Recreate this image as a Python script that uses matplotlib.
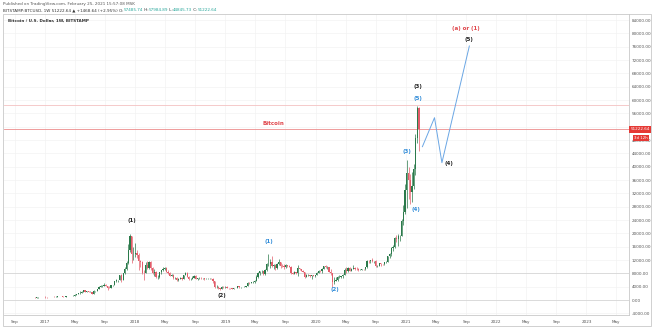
import matplotlib
matplotlib.use("Agg")
import matplotlib.pyplot as plt
import matplotlib.dates as mdates
from matplotlib.patches import Rectangle
import numpy as np
import pandas as pd

# weekly BTCUSD candles (Bitstamp), weeks starting Monday 2016-07-25
first_week = "2016-07-25"
first_open = 655

close_2016 = [624, 588, 570, 581, 572, 608, 608, 609, 602, 612, 617, 638, 656, 698, 705, 703,
              745, 733, 765, 775, 790, 890, 998]
high_2016 = [665, 625, 595, 590, 585, 612, 630, 612, 612, 616, 623, 641, 660, 710, 745, 718,
             750, 760, 770, 780, 795, 898, 1000]
low_2016 = [620, 535, 565, 565, 565, 570, 600, 603, 592, 598, 605, 615, 628, 654, 683, 678,
            700, 725, 730, 750, 770, 788, 885]

close_2017 = [900, 820, 920, 920, 1020, 995, 1050, 1170, 1270, 1230, 960, 960, 1080, 1190, 1180,
              1250, 1350, 1570, 1770, 2050, 2180, 2520, 2950, 2520, 2570, 2500, 2500, 1920, 2750,
              2750, 3230, 4050, 4080, 4350, 4570, 4300, 3700, 3650, 4360, 4600, 5700, 6000, 6150,
              7400, 5950, 8000, 9300, 11200, 15000, 19100, 13900, 13900]
high_2017 = [1150, 910, 930, 930, 1030, 1070, 1060, 1200, 1290, 1280, 1250, 1040, 1100, 1210, 1200,
             1260, 1430, 1710, 1830, 2100, 2760, 2580, 2980, 2980, 2770, 2620, 2650, 2520, 2900,
             2790, 3240, 4200, 4480, 4390, 4980, 4700, 4350, 4100, 4370, 4620, 5850, 6180, 6130,
             7600, 7900, 8200, 9900, 11800, 16800, 19700, 19100, 15900]
low_2017 = [750, 750, 820, 880, 910, 950, 975, 1040, 1160, 1100, 950, 900, 930, 1060, 1150,
            1170, 1250, 1340, 1560, 1750, 1850, 2200, 2450, 2300, 2470, 2300, 2350, 1830, 1900,
            2520, 2650, 3200, 3850, 3950, 4200, 4100, 2970, 3500, 3550, 4150, 4500, 5300, 5400,
            5900, 5550, 6200, 7900, 8900, 10800, 14500, 11000, 12000]

close_2018 = [14000, 13600, 11600, 11500, 8200, 8100, 10400, 9600, 11400, 9500, 8200, 8500, 6900,
              6900, 8300, 8900, 9300, 9700, 8500, 8200, 7350, 7500, 6500, 6500, 6150, 6350, 6700,
              6350, 7400, 8200, 7000, 6300, 6400, 6700, 7200, 6200, 6500, 6700, 6600, 6600, 6300,
              6400, 6400, 6400, 6350, 5600, 3800, 4000, 3600, 3200, 3900, 3800, 4050]
high_2018 = [17200, 15000, 14100, 12000, 11700, 9000, 11300, 11800, 11700, 11700, 9900, 9200, 8700,
             7500, 8400, 9100, 9800, 9900, 10000, 8900, 8500, 7800, 7800, 6900, 6800, 6600, 6800,
             6800, 7600, 8500, 8300, 7200, 6600, 7100, 7400, 7400, 6600, 6900, 6800, 6700, 6700,
             6700, 6600, 6500, 6600, 6500, 5700, 4400, 4300, 3700, 4200, 4200, 4100]
low_2018 = [12800, 12500, 9000, 10000, 7800, 6000, 8000, 9300, 9300, 9000, 7900, 7300, 6600,
            6400, 6600, 7900, 8700, 8900, 8500, 7900, 7200, 7100, 6400, 6200, 5800, 5800, 6200,
            6100, 6300, 7400, 6900, 6000, 5900, 6200, 6700, 6200, 6100, 6300, 6400, 6400, 6100,
            6200, 6300, 6350, 6300, 5200, 3500, 3600, 3300, 3100, 3200, 3600, 3700]

close_2019 = [3600, 3550, 3530, 3410, 3640, 3650, 4100, 3820, 3930, 4000, 4030, 4100, 5100, 5060,
              5300, 5300, 5800, 7000, 8200, 8700, 8700, 7700, 8900, 10800, 10800, 11300, 10300,
              10600, 9500, 10800, 11300, 10200, 10100, 9800, 10400, 10300, 10000, 8000, 7900, 8300,
              8200, 9500, 9200, 8800, 8500, 6900, 7400, 7500, 7100, 7500, 7300, 7400]
high_2019 = [4100, 3700, 3650, 3600, 3700, 3700, 4200, 3950, 3950, 4050, 4080, 4150, 5300, 5400,
             5350, 5600, 5900, 7500, 8300, 8800, 9000, 8800, 9300, 11200, 13800, 12400, 13200,
             10900, 10700, 11100, 12300, 11500, 10900, 10700, 10900, 10500, 10400, 10100, 8500,
             8700, 8400, 10500, 9700, 9400, 8900, 8500, 7800, 7800, 7600, 7600, 7500, 7500]
low_2019 = [3500, 3400, 3450, 3350, 3400, 3550, 3600, 3700, 3700, 3850, 3950, 3950, 4100, 4900,
            5000, 5050, 5200, 5700, 6600, 7600, 8000, 7450, 7600, 8800, 10300, 9700, 9900, 9300,
            9100, 9400, 10600, 9500, 9800, 9350, 9600, 9900, 9800, 7700, 7700, 7900, 7900, 7300,
            8900, 8700, 8300, 6500, 6800, 7200, 6900, 6450, 7100, 6900]

close_2020 = [8190, 8700, 8600, 9400, 10150, 9900, 9950, 8550, 8000, 5400, 5830, 5900, 6780, 6900,
              7100, 7550, 8900, 8750, 9680, 8720, 9450, 9650, 9350, 9300, 9000, 9080, 9230, 9160,
              9930, 11800, 11700, 11900, 11650, 11700, 10280, 10330, 11080, 10750, 10670, 11300,
              11400, 13100, 13750, 15500, 16000, 18700, 18200, 19200, 19200, 23800, 26500, 33000]
high_2020 = [8450, 9000, 8950, 9550, 10200, 10500, 10300, 9950, 9200, 8200, 6900, 6950, 7200, 7450,
             7300, 7750, 9500, 10000, 9900, 9950, 9600, 10400, 10000, 9800, 9700, 9250, 9450, 9250,
             9960, 12100, 12000, 12100, 12470, 11800, 12050, 10600, 11150, 11180, 10950, 11500,
             11700, 13350, 14000, 15900, 16500, 18800, 19400, 19900, 19400, 24300, 28400, 34800]
low_2020 = [7400, 8080, 8300, 8250, 9250, 9600, 9400, 8450, 7600, 3850, 4950, 5700, 5850, 6700,
            6500, 6700, 7500, 8100, 8400, 8650, 8630, 9200, 9100, 9000, 8800, 8950, 8900, 9050,
            9100, 9700, 11000, 11100, 11450, 11150, 9900, 9900, 10200, 10150, 10500, 10500, 11200,
            11300, 12700, 13250, 14800, 15500, 17500, 16200, 17600, 19100, 22400, 25800]

close_2021 = [38200, 36000, 32300, 34300, 39200, 48600, 57485.74, 51222.64]
high_2021 = [41900, 40000, 37800, 38500, 40900, 49700, 58350, 57984.89]
low_2021 = [27700, 30400, 28800, 29300, 33400, 37400, 47000, 44845.73]

closes = close_2016 + close_2017 + close_2018 + close_2019 + close_2020 + close_2021
highs = high_2016 + high_2017 + high_2018 + high_2019 + high_2020 + high_2021
lows = low_2016 + low_2017 + low_2018 + low_2019 + low_2020 + low_2021
opens = [first_open] + closes[:-1]

# drawn lines: projected path, horizontal levels
proj_dates = ["2021-03-08", "2021-04-26", "2021-05-26", "2021-09-14"]
proj_prices = [46000, 54700, 41200, 76200]
ath_level = 58500
last_price = 51222.64
support_levels = [8000, 0]

# wave labels: text, date, price, colour
waves = [
    ("(1)", "2017-12-18", 23800, "#222222"),
    ("(2)", "2018-12-17", 1200, "#222222"),
    ("(1)", "2019-06-24", 17500, "#2f8bd8"),
    ("(2)", "2020-03-20", 3000, "#2f8bd8"),
    ("(3)", "2021-01-06", 44500, "#2f8bd8"),
    ("(4)", "2021-02-10", 27000, "#2f8bd8"),
    ("(5)", "2021-02-17", 60500, "#2f8bd8"),
    ("(3)", "2021-02-17", 64000, "#222222"),
    ("(4)", "2021-06-23", 40800, "#222222"),
    ("(5)", "2021-09-14", 78300, "#222222"),
    ("(a) or (1)", "2021-09-01", 81500, "#e0474c"),
    ("Bitcoin", "2019-07-12", 53000, "#e0474c"),
]

xtick_dates = ["2016-09-01", "2017-01-01", "2017-05-01", "2017-09-01", "2018-01-01", "2018-05-01",
               "2018-09-01", "2019-01-01", "2019-05-01", "2019-09-01", "2020-01-01", "2020-05-01",
               "2020-09-01", "2021-01-01", "2021-05-01", "2021-09-01", "2022-01-01", "2022-05-01",
               "2022-09-01", "2023-01-01", "2023-05-01"]
xtick_labels = ["Sep", "2017", "May", "Sep", "2018", "May", "Sep", "2019", "May", "Sep", "2020",
                "May", "Sep", "2021", "May", "Sep", "2022", "May", "Sep", "2023", "May"]
ytick_values = list(range(-4000, 84001, 4000))

UP = "#2b7a4b"
DOWN = "#e35d6a"
W, H = 654, 328

fig = plt.figure(figsize=(W / 100, H / 100), dpi=100)
fig.patch.set_facecolor("white")


def px(x, y):
    return x / W, 1 - y / H


# outer frame of the chart pane
fig.add_artist(Rectangle(px(3, 326), 648 / W, 312 / H, transform=fig.transFigure,
                         fill=False, edgecolor="#c9c9c9", linewidth=0.6))

ax = fig.add_axes([4 / W, 13 / H, 625 / W, 301 / H])
ax.set_facecolor("white")

weeks = pd.date_range(first_week, periods=len(closes), freq="7D")
x = mdates.date2num(weeks)
o = np.array(opens, dtype=float)
c = np.array(closes, dtype=float)
hi = np.maximum(np.array(highs, dtype=float), np.maximum(o, c))
lo = np.minimum(np.array(lows, dtype=float), np.minimum(o, c))
colors = [UP if cc >= oo else DOWN for oo, cc in zip(o, c)]

ax.vlines(x, lo, hi, colors=colors, linewidth=0.5, zorder=3)
ax.bar(x, c - o, bottom=o, width=5, color=colors, linewidth=0, zorder=4)

# horizontal levels
ax.axhline(ath_level, color="#f4c2c2", linewidth=0.6, zorder=2)
ax.axhline(last_price, color="#ec8c8c", linewidth=0.6, zorder=2)
for lvl in support_levels:
    ax.axhline(lvl, color="#d6d6d6", linewidth=0.6, zorder=2)

# projected wave path
ax.plot(mdates.date2num(pd.to_datetime(proj_dates)), proj_prices, color="#6aa6e4",
        linewidth=0.7, zorder=5)

for txt, d, price, col in waves:
    ax.text(mdates.date2num(pd.Timestamp(d)), price, txt, color=col, fontsize=4,
            fontweight="bold", ha="center", va="center", zorder=6)

ax.set_xlim(mdates.date2num(pd.Timestamp("2016-07-19")), mdates.date2num(pd.Timestamp("2023-06-22")))
ax.set_ylim(-4500, 85800)

ax.set_xticks(mdates.date2num(pd.to_datetime(xtick_dates)))
ax.set_xticklabels(xtick_labels)
ax.set_yticks(ytick_values)
# the 52000 mark sits under the last-price tag
ax.set_yticklabels(["" if v == 52000 else f"{v:.2f}" for v in ytick_values])
ax.yaxis.tick_right()
ax.tick_params(axis="both", length=0, labelsize=3, labelcolor="#555555")
ax.tick_params(axis="x", pad=3.5)
ax.tick_params(axis="y", pad=2)
ax.grid(True, color="#f3f3f3", linewidth=0.5, zorder=0)
ax.set_axisbelow(True)
for side in ["top", "left"]:
    ax.spines[side].set_visible(False)
for side in ["right", "bottom"]:
    ax.spines[side].set_color("#c9c9c9")
    ax.spines[side].set_linewidth(0.6)

# last price tags on the price scale
ytr = ax.get_yaxis_transform()
ax.text(1.002, last_price, "51222.64", transform=ytr, fontsize=3, color="white",
        ha="left", va="center", zorder=10, clip_on=False,
        bbox=dict(boxstyle="square,pad=0.3", facecolor="#e53935", edgecolor="none"))
ax.text(1.008, last_price - 2700, "3d 12h", transform=ytr, fontsize=2.8, color="white",
        ha="left", va="center", zorder=10, clip_on=False,
        bbox=dict(boxstyle="square,pad=0.25", facecolor="#e53935", edgecolor="none"))

# header lines
fig.text(*px(3, 4), "Published on TradingView.com, February 25, 2021 15:57:08 MSK",
         fontsize=3, color="#555555", va="center", ha="left")

pieces = [("BITSTAMP:BTCUSD, 1W 51222.64 \u25b2 +1468.64 (+2.95%) O:", "#333333"),
          ("57485.74", "#26a69a"), (" H:", "#333333"), ("57984.89", "#26a69a"),
          (" L:", "#333333"), ("44845.73", "#26a69a"), (" C:", "#333333"),
          ("51222.64", "#26a69a")]
fig.canvas.draw()
renderer = fig.canvas.get_renderer()
cur_x = 3
for txt, col in pieces:
    t = fig.text(*px(cur_x, 10), txt, fontsize=3, color=col, va="center", ha="left")
    cur_x += t.get_window_extent(renderer).width

fig.text(*px(8, 21), "Bitcoin / U.S. Dollar, 1W, BITSTAMP", fontsize=3, color="#333333",
         va="center", ha="left", fontweight="bold")

fig.savefig("out.png", dpi=100, facecolor="white")
